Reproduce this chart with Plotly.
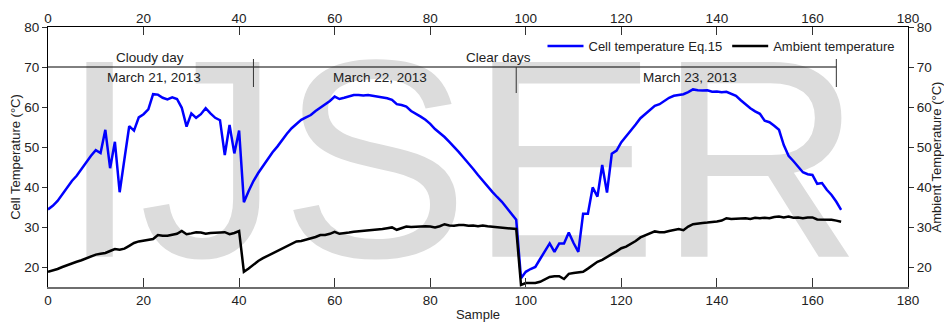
import plotly.graph_objects as go

# ---- data ----
samples = list(range(0, 167))

cell_temp = [
    34.4, 35.3, 36.5, 38.2, 39.8, 41.5, 42.8, 44.5, 46.3, 47.8,
    49.2, 48.5, 54.3, 44.7, 51.3, 38.7, 47.0, 55.2, 54.1, 57.4,
    58.2, 59.4, 63.2, 63.1, 62.3, 61.9, 62.4, 62.0, 59.8, 55.1,
    58.4, 57.3, 58.2, 59.7, 58.4, 57.3, 56.7, 48.0, 55.5, 48.4,
    54.1, 36.2, 39.0, 41.5, 43.5, 45.3, 47.0, 48.7, 50.1, 51.8,
    53.3, 54.7, 55.7, 56.8, 57.4, 58.0, 59.0, 59.8, 60.7, 61.5,
    62.6, 62.0, 62.3, 62.7, 63.0, 63.0, 62.9, 63.0, 62.8, 62.6,
    62.4, 62.2, 61.8, 60.7, 60.5, 60.1, 59.0, 58.4, 57.6, 56.8,
    55.8, 54.5, 53.6, 52.5, 51.3, 50.1, 48.7, 47.3, 46.0, 44.5,
    43.0, 41.5, 40.2, 38.8, 37.5, 36.3, 34.8, 33.2, 31.8, 17.2,
    18.8, 19.5, 20.0, 22.0, 24.0, 25.9, 23.8, 25.9, 25.9, 28.6,
    26.0, 23.8, 33.3, 33.3, 39.9, 37.6, 45.5, 38.6, 48.3, 49.1,
    51.2, 52.6, 54.0, 55.6, 57.2, 58.3, 59.2, 60.3, 60.7, 61.5,
    62.3, 62.8, 63.0, 63.2, 63.7, 64.4, 64.2, 64.1, 64.2, 63.8,
    63.9, 63.7, 63.8, 63.3, 62.8, 61.7, 60.6, 59.7, 58.9, 58.3,
    56.6, 56.2, 55.3, 54.3, 50.5, 47.8, 46.5, 45.0, 43.7, 43.2,
    43.0, 40.8, 41.0, 39.3, 38.0, 36.3, 34.3,
]

ambient_temp = [
    18.8, 19.1, 19.5, 20.0, 20.5, 21.0, 21.3, 21.7, 22.2, 22.7,
    23.1, 23.3, 23.5, 24.0, 24.5, 24.3, 24.6, 25.3, 26.0, 26.4,
    26.6, 26.8, 27.0, 28.0, 27.8, 27.8, 28.0, 28.3, 29.0, 28.2,
    28.4, 28.7, 28.6, 28.3, 28.5, 28.6, 28.6, 28.7, 28.2, 28.5,
    29.0, 18.8, 19.6, 20.6, 21.5, 22.2, 22.8, 23.4, 24.0, 24.7,
    25.4, 26.0, 26.4, 26.5, 26.8, 27.2, 27.5, 28.0, 28.0, 28.3,
    28.8, 28.3, 28.4, 28.6, 28.8, 28.9, 29.0, 29.1, 29.2, 29.3,
    29.5, 29.7, 29.9, 29.3, 29.7, 30.1, 30.0, 30.1, 30.2, 30.2,
    30.1, 29.9, 30.2, 30.7, 30.4, 30.3, 30.5, 30.5, 30.3, 30.4,
    30.2, 30.4, 30.2, 30.1, 29.9, 29.9, 29.8, 29.7, 29.5, 15.5,
    16.0, 16.0, 16.0, 16.3, 16.9, 17.5, 17.7, 17.7, 17.0, 18.3,
    18.5, 18.7, 18.8, 19.6, 20.5, 21.3, 21.8, 22.4, 23.2, 23.9,
    24.7, 25.1, 25.7, 26.5, 27.4, 27.9, 28.3, 28.9, 28.7, 28.7,
    29.0, 29.3, 29.5, 29.2, 30.1, 30.7, 30.9, 31.0, 31.1, 31.2,
    31.4, 31.6, 32.2, 32.0, 32.1, 32.1, 32.2, 32.0, 32.3, 32.2,
    32.3, 32.2, 32.5, 32.6, 32.4, 32.6, 32.3, 32.4, 32.2, 32.4,
    32.4, 31.9, 31.9, 31.8, 31.8, 31.6, 31.3,
]

x_ticks = [0, 20, 40, 60, 80, 100, 120, 140, 160, 180]
y_ticks = [20, 30, 40, 50, 60, 70, 80]

# day / weather divisions (sample positions)
day_dividers = [43, 98, 165]
period_line_y = 70
period_labels = ["Cloudy day", "Clear days"]
period_label_x = [21.3, 94.2]
day_labels = ["March 21, 2013", "March 22, 2013", "March 23, 2013"]
day_label_x = [22.2, 69.5, 134.4]

FONT = "Liberation Sans, Arial, sans-serif"

fig = go.Figure()

# watermark (behind the data)
fig.add_trace(go.Scatter(
    x=[86.5], y=[40.25], mode="text", text=["IJSER"],
    textposition="middle center",
    textfont=dict(family=FONT, size=283, color="#dcdcdc"),
    showlegend=False, hoverinfo="skip", cliponaxis=True,
))

fig.add_trace(go.Scatter(
    x=samples, y=cell_temp, mode="lines", name="Cell temperature Eq.15",
    line=dict(color="#0000ff", width=2.5),
))
fig.add_trace(go.Scatter(
    x=samples, y=ambient_temp, mode="lines", name="Ambient temperature",
    line=dict(color="#000000", width=2.5),
))
# hidden trace to activate the top / right axes
fig.add_trace(go.Scatter(
    x=[None], y=[None], xaxis="x2", yaxis="y2", showlegend=False,
    hoverinfo="skip",
))

tickfont = dict(family=FONT, size=13.5, color="#222222")

fig.update_layout(
    width=944, height=322,
    margin=dict(l=48, r=36, t=27, b=35, autoexpand=False),
    plot_bgcolor="white", paper_bgcolor="white",
    font=dict(family=FONT, size=13, color="#222222"),
    showlegend=True,
    legend=dict(
        orientation="h", x=0.575, xanchor="left", y=0.927, yanchor="middle",
        bgcolor="rgba(0,0,0,0)", borderwidth=0,
        font=dict(family=FONT, size=13, color="#222222"),
        itemwidth=36, tracegroupgap=0,
    ),
    xaxis=dict(
        range=[0, 180], tickvals=x_ticks, ticks="inside", ticklen=9,
        tickcolor="#333333", showline=True, linecolor="#6e6e6e", linewidth=2,
        showgrid=False, zeroline=False, tickfont=tickfont,
        title=dict(text="Sample", font=dict(family=FONT, size=13), standoff=6),
        automargin=False,
    ),
    xaxis2=dict(
        range=[0, 180], tickvals=x_ticks, ticks="inside", ticklen=8,
        tickcolor="#333333", showline=True, linecolor="#000000", linewidth=1,
        showgrid=False, zeroline=False, tickfont=tickfont,
        overlaying="x", side="top", anchor="y", automargin=False,
        ticklabelstandoff=-2,
    ),
    yaxis=dict(
        range=[15, 80], tickvals=y_ticks, ticks="outside", ticklen=5,
        tickcolor="#333333", showline=True, linecolor="#000000", linewidth=1,
        showgrid=False, zeroline=False, tickfont=tickfont,
        title=dict(text="Cell Temperature (°C)", font=dict(family=FONT, size=13), standoff=0),
        automargin=False,
    ),
    yaxis2=dict(
        range=[15, 80], tickvals=y_ticks, ticks="outside", ticklen=5,
        tickcolor="#333333", showline=True, linecolor="#000000", linewidth=1,
        showgrid=False, zeroline=False, tickfont=tickfont,
        title=dict(text="Ambient Temperature (°C)", font=dict(family=FONT, size=13), standoff=6),
        overlaying="y", side="right", anchor="x", automargin=False,
    ),
)

# horizontal period line and day dividers
fig.add_shape(type="line", xref="x", yref="y", x0=0, x1=day_dividers[-1],
              y0=period_line_y, y1=period_line_y, line=dict(color="#000000", width=1))
divider_spans = [(65, 72), (63.5, 70), (65, 72)]
for d, (lo, hi) in zip(day_dividers, divider_spans):
    fig.add_shape(type="line", xref="x", yref="y", x0=d, x1=d, y0=lo, y1=hi,
                  line=dict(color="#333333", width=1))

for txt, xv in zip(period_labels, period_label_x):
    fig.add_annotation(x=xv, y=72.4, xref="x", yref="y", text=txt, showarrow=False,
                       font=dict(family=FONT, size=13.5, color="#222222"),
                       xanchor="center", yanchor="middle")
for txt, xv in zip(day_labels, day_label_x):
    fig.add_annotation(x=xv, y=67.4, xref="x", yref="y", text=txt, showarrow=False,
                       font=dict(family=FONT, size=13.5, color="#222222"),
                       xanchor="center", yanchor="middle")

fig.write_html("out.html")
